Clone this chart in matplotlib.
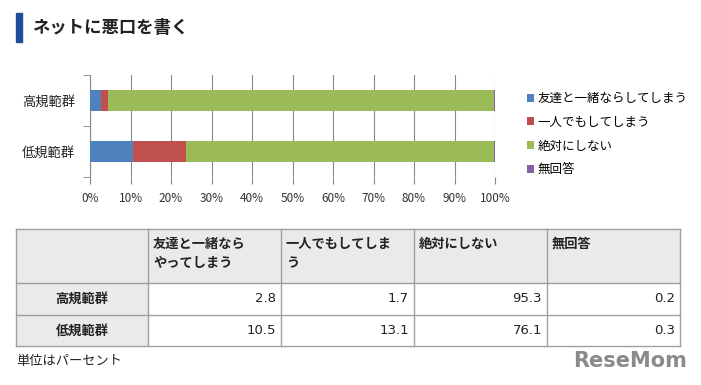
import numpy as np
import matplotlib
matplotlib.use("Agg")
import matplotlib.pyplot as plt
from matplotlib.patches import Rectangle

plt.rcParams['font.family'] = ['Noto Sans CJK JP', 'DejaVu Sans']

title = "ネットに悪口を書く"
groups = ["高規範群", "低規範群"]
series = ["友達と一緒ならしてしまう", "一人でもしてしまう", "絶対にしない", "無回答"]
colors = ["#4F81BD", "#C0504D", "#9BBB59", "#8064A2"]
values = np.array([
    [2.8, 1.7, 95.3, 0.2],
    [10.5, 13.1, 76.1, 0.3],
])
xticks = [0, 10, 20, 30, 40, 50, 60, 70, 80, 90, 100]
table_headers = ["友達と一緒なら\nやってしまう", "一人でもしてしま\nう", "絶対にしない", "無回答"]
unit_note = "単位はパーセント"

W, H = 701, 385
fig = plt.figure(figsize=(W / 100, H / 100), dpi=100)

# overlay axes in pixel coordinates for title, table, notes
ov = fig.add_axes([0, 0, 1, 1])
ov.set_xlim(0, W)
ov.set_ylim(H, 0)
ov.axis('off')

ov.add_patch(Rectangle((16, 13), 6, 29, color="#1F4E9C"))
ov.text(32, 28, title, fontsize=12.5, fontweight='bold', va='center', ha='left', color="#222222")

# chart
ax = fig.add_axes([90 / W, 1 - 177 / H, 405 / W, 102 / H])
ypos = np.arange(len(groups))
left = np.zeros(len(groups))
for i, name in enumerate(series):
    ax.barh(ypos, values[:, i], left=left, height=0.4, color=colors[i], label=name, zorder=3)
    left += values[:, i]
ax.set_xlim(0, 100)
ax.set_ylim(1.5, -0.5)
ax.set_xticks(xticks)
ax.set_xticklabels([f"{t}%" for t in xticks], fontsize=8.5, color="#333333")
ax.set_yticks(ypos)
ax.set_yticklabels(groups, fontsize=9.5, color="#222222")
ax.tick_params(axis='y', length=0, pad=11)
ax.set_yticks([-0.5, 0.5, 1.5], minor=True)
ax.tick_params(axis='y', which='minor', length=5, color="#888888")
ax.tick_params(axis='x', length=5, color="#888888", pad=6)
ax.grid(axis='x', color="#888888", linewidth=0.8, zorder=0)
for s in ['top', 'right', 'bottom']:
    ax.spines[s].set_visible(False)
ax.spines['left'].set_color("#888888")
ax.legend(loc='center left', bbox_to_anchor=(1.05, 0.42), frameon=False, fontsize=9,
          handlelength=0.6, handleheight=0.6, handletextpad=0.3, labelspacing=0.85)

# table
col_x = [16, 148, 281, 414, 547, 680]
row_y = [229, 283, 315, 346]
hdr_bg = "#EAEAEC"
line_c = "#A0A0A0"
ov.add_patch(Rectangle((col_x[0], row_y[0]), col_x[-1] - col_x[0], row_y[1] - row_y[0],
                       facecolor=hdr_bg, edgecolor='none'))
ov.add_patch(Rectangle((col_x[0], row_y[1]), col_x[1] - col_x[0], row_y[-1] - row_y[1],
                       facecolor=hdr_bg, edgecolor='none'))
for x in col_x:
    ov.plot([x, x], [row_y[0], row_y[-1]], color=line_c, lw=1)
for y in row_y:
    ov.plot([col_x[0], col_x[-1]], [y, y], color=line_c, lw=1)

for j, h in enumerate(table_headers):
    ov.text(col_x[j + 1] + 5, row_y[0] + 8, h, fontsize=9.5, fontweight='bold', ha='left', va='top',
            color="#222222", linespacing=1.5)
for i, g in enumerate(groups):
    cy = (row_y[i + 1] + row_y[i + 2]) / 2
    ov.text((col_x[0] + col_x[1]) / 2, cy, g, fontsize=9.5, fontweight='bold', ha='center', va='center',
            color="#222222")
    for j in range(len(series)):
        ov.text(col_x[j + 2] - 5, cy, f"{values[i, j]:.1f}", fontsize=9.5, ha='right', va='center',
                color="#222222", family=['DejaVu Sans'])

ov.text(16, 362, unit_note, fontsize=9.5, ha='left', va='center', color="#222222")
ov.text(687, 361, "ReseMom", fontsize=15, fontweight='bold', ha='right', va='center',
        color="#8A8A8A", family=['DejaVu Sans'])

fig.savefig("out.png", dpi=100)
